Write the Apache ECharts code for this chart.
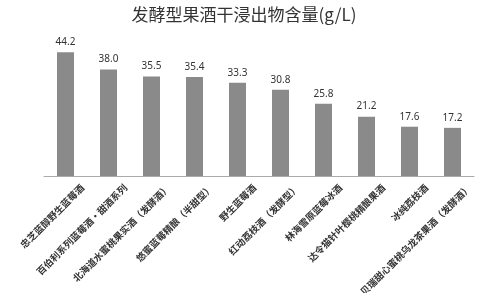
<!DOCTYPE html>
<html><head><meta charset="utf-8">
<script src="https://cdn.jsdelivr.net/npm/echarts@6/dist/echarts.min.js"></script>
<style>html,body{margin:0;padding:0;background:#fff}#c{width:488px;height:293px}</style>
</head><body><div id="c"></div>
<script>
const categories = ["忠芝蓝醇野生蓝莓酒","百伯利系列蓝莓酒·甜酒系列","北海道水蜜桃果实酒（发酵酒）","悠蜜蓝莓精酿（半甜型）","野生蓝莓酒","红动荔枝酒（发酵型）","林海雪原蓝莓冰酒","达令猫针叶樱桃精酿果酒","冰纯荔枝酒","贝瑞甜心蜜桃乌龙茶果酒（发酵酒）"];
const values = [44.2,38.0,35.5,35.4,33.3,30.8,25.8,21.2,17.6,17.2];
const chart = echarts.init(document.getElementById('c'));
chart.setOption({
  animation:false,
  title:{text:'发酵型果酒干浸出物含量(g/L)',left:'center',top:1,textStyle:{fontFamily:'Noto Sans CJK SC',fontSize:17,fontWeight:'normal',color:'#333'}},
  grid:{left:44,right:14,top:36,bottom:117,outerBoundsMode:'none',containLabel:false},
  xAxis:{type:'category',data:categories,
    axisLine:{lineStyle:{color:'#aaa',width:1}},axisTick:{show:false},
    axisLabel:{interval:0,rotate:45,fontSize:9.5,fontFamily:'Noto Sans CJK SC',color:'#333',fontWeight:'bold',margin:-7,verticalAlign:'top',lineHeight:48}},
  yAxis:{type:'value',min:0,max:50,show:false,splitLine:{show:false}},
  series:[{type:'bar',data:values,barWidth:17,itemStyle:{color:'#8a8a8a'},
    label:{show:true,position:'top',distance:5,fontSize:10,color:'#333',fontFamily:'Noto Sans',formatter:p=>p.value.toFixed(1)}}]
});
</script></body></html>
